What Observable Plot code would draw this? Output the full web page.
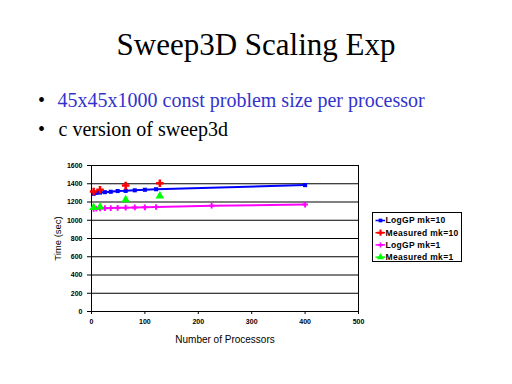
<!DOCTYPE html>
<html>
<head>
<meta charset="utf-8">
<script src="https://cdn.jsdelivr.net/npm/d3@7"></script>
<script src="https://cdn.jsdelivr.net/npm/@observablehq/plot@0.6"></script>
<style>
  html, body { margin: 0; padding: 0; background: #fff; }
  body { width: 512px; height: 384px; position: relative; overflow: hidden; }
  .serif { font-family: 'Liberation Serif', 'Times New Roman', 'DejaVu Serif', serif; }
  .title { position: absolute; left: 0; width: 512px; top: 27.4px; text-align: center;
           font-size: 31px; line-height: normal; color: #000; }
  .bullet { position: absolute; font-size: 20px; line-height: normal; white-space: nowrap; }
  #chart { position: absolute; left: 0; top: 155px; }
  #legend { position: absolute; left: 371.5px; top: 211.5px; width: 90px; height: 50px; border: 1px solid #000; box-sizing: border-box; background: #fff; }
</style>
</head>
<body>
<div class="title serif">Sweep3D Scaling Exp</div>
<div class="bullet serif" style="left:38px; top:88.9px; color:#000;">•</div>
<div class="bullet serif" style="left:57.5px; top:88.9px; color:#3333cc;">45x45x1000 const problem size per processor</div>
<div class="bullet serif" style="left:38px; top:118.2px; color:#000;">•</div>
<div class="bullet serif" style="left:58.5px; top:118.2px; color:#000;">c version of sweep3d</div>
<div id="chart"></div>
<div id="legend"></div>
<script>
// ---- data ----
const procLogGP10 = [4, 9, 16, 25, 36, 49, 64, 81, 100, 121, 400];
const timeLogGP10 = [1290, 1300, 1303, 1308, 1312, 1320, 1322, 1328, 1334, 1340, 1385];
const procMeasured = [4, 16, 64, 128];
const timeMeasured10 = [1315, 1335, 1380, 1405];
const procLogGP1 = [4, 9, 16, 25, 36, 49, 64, 81, 100, 121, 225, 400];
const timeLogGP1 = [1125, 1128, 1130, 1132, 1134, 1136, 1138, 1140, 1142, 1145, 1160, 1172];
const timeMeasured1 = [1140, 1145, 1225, 1265];
const seriesNames = ["LogGP mk=10", "Measured mk=10", "LogGP mk=1", "Measured mk=1"];
const seriesColors = ["#0000ff", "#ff0000", "#ff00ff", "#00ff00"];
const xTicks = [0, 100, 200, 300, 400, 500];
const yTicks = [0, 200, 400, 600, 800, 1000, 1200, 1400, 1600];

const toRows = (xs, ys) => xs.map((x, i) => ({x, y: ys[i]}));
const logGP10 = toRows(procLogGP10, timeLogGP10);
const meas10 = toRows(procMeasured, timeMeasured10);
const logGP1 = toRows(procLogGP1, timeLogGP1);
const meas1 = toRows(procMeasured, timeMeasured1);

const chart = Plot.plot({
  width: 512,
  height: 200,
  marginLeft: 91,
  marginRight: 154,
  marginTop: 10,
  marginBottom: 44,
  style: {background: "transparent", fontFamily: "'Liberation Sans', Arial, sans-serif", color: "#000"},
  x: {domain: [0, 500]},
  y: {domain: [0, 1600]},
  marks: [
    Plot.ruleY(yTicks, {stroke: "#000", strokeWidth: 1}),
    Plot.frame({stroke: "#000", strokeWidth: 1}),
    Plot.axisX({ticks: xTicks, tickSize: 3, tickPadding: 5, fontSize: 7, fontWeight: "bold", tickFormat: d3.format("d"),
      label: "Number of Processors", labelAnchor: "center", labelArrow: "none", labelOffset: 31}),
    Plot.axisY({ticks: yTicks, tickSize: 4, tickPadding: 5, fontSize: 7, fontWeight: "bold", tickFormat: d3.format("d"),
      label: "Time (sec)", labelAnchor: "center", labelArrow: "none", labelOffset: 37}),
    Plot.line(logGP1, {x: "x", y: "y", stroke: seriesColors[2], strokeWidth: 2}),
    Plot.dot(logGP1, {x: "x", y: "y", symbol: "cross", fill: seriesColors[2], r: 2.4}),
    Plot.line(logGP10, {x: "x", y: "y", stroke: seriesColors[0], strokeWidth: 2}),
    Plot.dot(logGP10, {x: "x", y: "y", symbol: "square", fill: seriesColors[0], r: 2.3}),
    Plot.dot(meas10, {x: "x", y: "y", symbol: "cross", fill: seriesColors[1], r: 3.2}),
    Plot.dot(meas1, {x: "x", y: "y", symbol: "triangle", fill: seriesColors[3], r: 3.2})
  ]
});
chart.querySelectorAll("g[aria-label='x-axis label'], g[aria-label='y-axis label']").forEach(g => {
  g.setAttribute("font-weight", "normal");
  g.setAttribute("font-size", g.getAttribute("aria-label").startsWith("x") ? 10 : 9.5);
  g.querySelectorAll("text").forEach(t => { t.setAttribute("font-weight", "normal"); t.style.fontSize = g.getAttribute("font-size") + "px"; });
});
document.getElementById("chart").appendChild(chart);

// ---- legend ----
const symbols = [d3.symbolSquare, d3.symbolCross, d3.symbolCross, d3.symbolTriangle];
const sizes = [14, 22, 14, 22];
const lg = d3.select("#legend").append("svg").attr("width", 88).attr("height", 48)
  .style("display", "block");
seriesNames.forEach((name, i) => {
  const cy = 7.5 + i * 12.2;
  lg.append("line").attr("x1", 2.5).attr("x2", 12).attr("y1", cy).attr("y2", cy)
    .attr("stroke", seriesColors[i]).attr("stroke-width", 1.5);
  lg.append("path").attr("d", d3.symbol(symbols[i], sizes[i])())
    .attr("transform", `translate(7.5,${cy})`).attr("fill", seriesColors[i]);
  lg.append("text").attr("x", 12.5).attr("y", cy).attr("dy", "0.35em")
    .attr("font-family", "'Liberation Sans', Arial, sans-serif").attr("font-size", 8.5)
    .attr("font-weight", "bold").attr("letter-spacing", 0.3).attr("fill", "#000").text(name);
});
</script>
</body>
</html>
